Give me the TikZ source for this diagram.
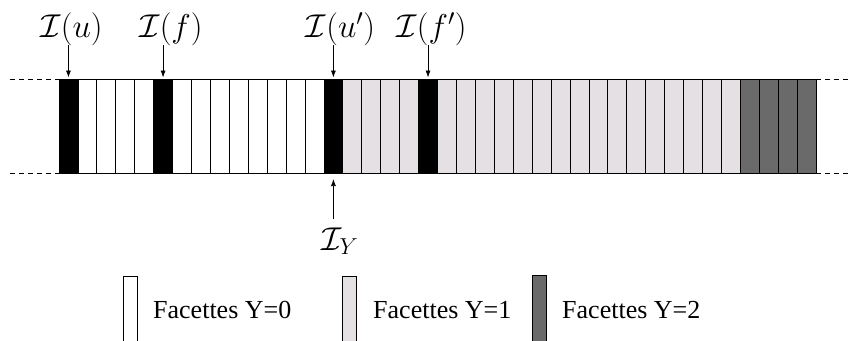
\documentclass[tikz,border=0pt]{standalone}
\usepackage{fix-cm}
\usepackage{fontspec}
\newfontfamily\legfont{Liberation Serif}
\usetikzlibrary{arrows.meta}
\definecolor{lightg}{HTML}{E4E0E4}
\definecolor{darkg}{HTML}{6A6A6A}
\begin{document}
\begin{tikzpicture}[x=1pt,y=-1pt,
  col/.style={draw=black, line width=0.8pt, minimum width=18.925pt, minimum height=94pt,
              inner sep=0pt, outer sep=0pt, anchor=north west},
  arr/.style={-{Latex[length=7pt,width=5pt]}, line width=0.7pt},
  mlab/.style={inner sep=0pt, anchor=base, font=\fontsize{33}{40}\selectfont},
  leg/.style={anchor=base west, inner sep=0pt, font=\fontsize{26}{30}\selectfont\legfont},
  legbox/.style={draw=black, line width=0.8pt, minimum width=14pt, minimum height=75pt,
                 inner sep=0pt, anchor=north west},
  dsh/.style={dash pattern=on 5pt off 4pt, line width=0.6pt}]
\clip (0,0) rectangle (850,340);
% columns
\foreach \i in {1,...,4,6,7,...,13}
  \node[col, fill=white] (c\i) at ({59+\i*18.925},79) {};
\foreach \i in {15,...,18,20,21,...,35}
  \node[col, fill=lightg] (c\i) at ({59+\i*18.925},79) {};
\foreach \i in {36,...,39}
  \node[col, fill=darkg] (c\i) at ({59+\i*18.925},79) {};
\foreach \i in {0,5,14,19}
  \node[col, fill=black] (c\i) at ({59+\i*18.925},79) {};
% dashed extensions
\coordinate (dl1) at (10,79);
\coordinate (dl2) at (10,173);
\coordinate (dr1) at (850,79);
\coordinate (dr2) at (850,173);
\draw[dsh] (dl1) -- (c0.north west);
\draw[dsh] (dl2) -- (c0.south west);
\draw[dsh] (c39.north east) -- (dr1);
\draw[dsh] (c39.south east) -- (dr2);
% top labels
\node[mlab] (lu)  at (71.5,37)  {$\mathcal{I}(u)$};
\node[mlab] (lf)  at (171,37)   {$\mathcal{I}(f)$};
\node[mlab] (lu2) at (340.5,37) {$\mathcal{I}(u')$};
\node[mlab] (lf2) at (431.5,37) {$\mathcal{I}(f')$};
\draw[arr] (lu.south -| c0.north)   -- ([yshift=1.5pt]c0.north);
\draw[arr] (lf.south -| c5.north)   -- ([yshift=1.5pt]c5.north);
\draw[arr] (lu2.south -| c14.north) -- ([yshift=1.5pt]c14.north);
\draw[arr] (lf2.south -| c19.north) -- ([yshift=1.5pt]c19.north);
% bottom label
\node[mlab] (ly) at (340,250) {$\mathcal{I}_Y$};
\path (ly.north) ++(0,-8) coordinate (lyt);
\draw[arr] (lyt -| c14.south) -- ([yshift=-6pt]c14.south);
% legend
\node[legbox, fill=white] (b0) at (123,276) {};
\node[legbox, fill=lightg] (b1) at (342,276) {};
\node[legbox, fill=darkg] (b2) at (532,275) {};
\node[leg] (t0) at (153,318) {Facettes Y=0};
\node[leg] (t1) at (373,318) {Facettes Y=1};
\node[leg] (t2) at (562,318) {Facettes Y=2};
\end{tikzpicture}
\end{document}
